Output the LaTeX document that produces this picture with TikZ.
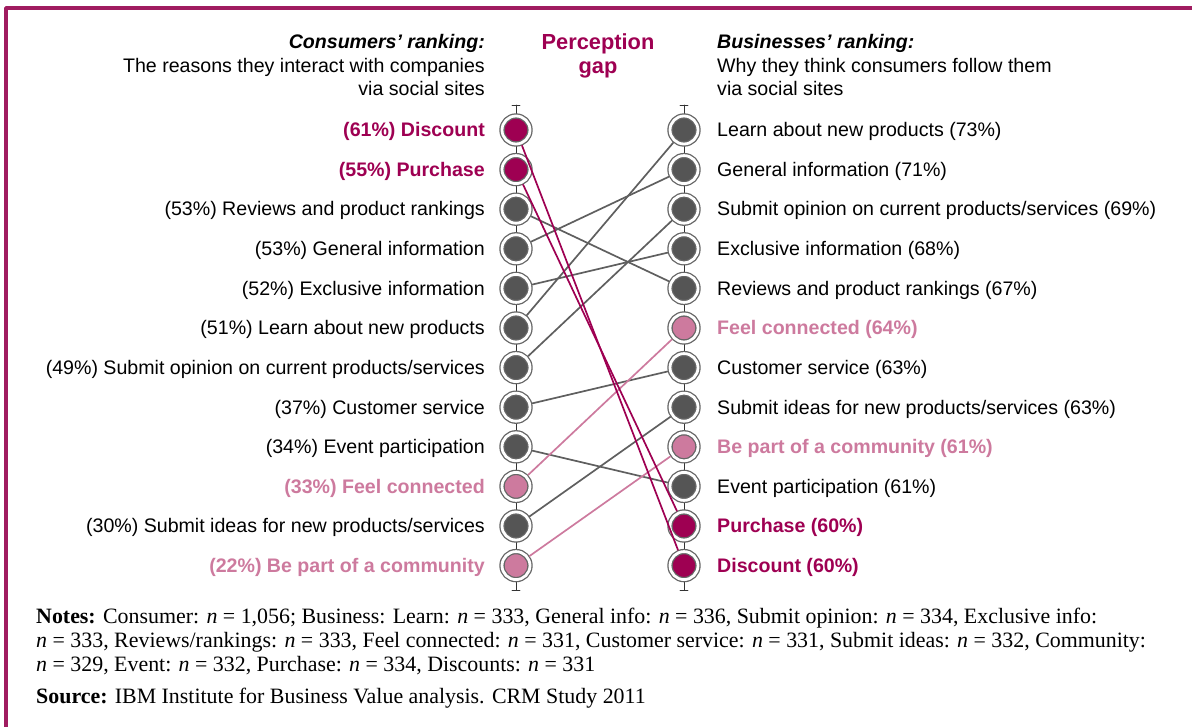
\documentclass[tikz,border=0pt]{standalone}
\usepackage{fontspec}
\setmainfont{Liberation Serif}
\setsansfont{Liberation Sans}
\definecolor{mag}{RGB}{158,0,82}
\definecolor{pnk}{RGB}{205,122,158}
\definecolor{dgray}{RGB}{85,85,85}
\definecolor{lgray}{RGB}{95,95,95}
\definecolor{framecol}{RGB}{160,28,96}
\begin{document}
\begin{tikzpicture}[x=1pt,y=-1pt,line join=round,line cap=round,
	font=\sffamily\fontsize{19.6}{23}\selectfont,
	dot/.style={circle,inner sep=0pt,outer sep=2.8pt,minimum size=28pt,fill=#1,draw=black!60,double=white,double distance=2.8pt,line width=1.3pt},
	lbl/.style={inner sep=0pt,text=#1},
	link/.style={#1,line width=1.7pt}]
	\useasboundingbox (0,0) rectangle (1192,727);
	%khung
	\draw[framecol,line width=3.5pt] (6,727)--(6,8)--(1192,8);
	%tieu de
	\node[lbl=black,anchor=base east,font=\sffamily\bfseries\itshape\fontsize{19.6}{23}\selectfont] (cH1) at (485,48.5) {Consumers’ ranking:};
	\node[lbl=black,anchor=base east] (cH2) at (485,72.5) {The reasons they interact with companies};
	\node[lbl=black,anchor=base east] (cH3) at (485,95.5) {via social sites};
	\node[lbl=mag,anchor=base,font=\sffamily\bfseries\fontsize{21.8}{25}\selectfont] (gH1) at (598,49.5) {Perception};
	\node[lbl=mag,anchor=base,font=\sffamily\bfseries\fontsize{21.8}{25}\selectfont] (gH2) at (598,73.5) {gap};
	\node[lbl=black,anchor=base west,font=\sffamily\bfseries\itshape\fontsize{19.6}{23}\selectfont] (bH1) at (717,48.5) {Businesses’ ranking:};
	\node[lbl=black,anchor=base west] (bH2) at (717,72.5) {Why they think consumers follow them};
	\node[lbl=black,anchor=base west] (bH3) at (717,95.5) {via social sites};
	%truc
	\foreach \x in {516,684}{
		\draw[black!80,line width=.9pt] (\x,105)--(\x,590) (\x-4,105)--(\x+4,105) (\x-4,590)--(\x+4,590);}
	%cac diem
	\foreach \i/\c in {0/mag,1/mag,2/dgray,3/dgray,4/dgray,5/dgray,6/dgray,7/dgray,8/dgray,9/pnk,10/dgray,11/pnk}{
		\node[dot=\c] (L\i) at (516,{130+39.6*\i}) {};}
	\foreach \i/\c in {0/dgray,1/dgray,2/dgray,3/dgray,4/dgray,5/pnk,6/dgray,7/dgray,8/pnk,9/dgray,10/mag,11/mag}{
		\node[dot=\c] (R\i) at (684,{130+39.6*\i}) {};}
	%nhan trai
	\foreach \i/\c/\f/\t in {0/mag/\bfseries/{(61\%) Discount},1/mag/\bfseries/{(55\%) Purchase},
		2/black/{}/{(53\%) Reviews and product rankings},3/black/{}/{(53\%) General information},
		4/black/{}/{(52\%) Exclusive information},5/black/{}/{(51\%) Learn about new products},
		6/black/{}/{(49\%) Submit opinion on current products/services},7/black/{}/{(37\%) Customer service},
		8/black/{}/{(34\%) Event participation},9/pnk/\bfseries/{(33\%) Feel connected},
		10/black/{}/{(30\%) Submit ideas for new products/services},11/pnk/\bfseries/{(22\%) Be part of a community}}{
		\node[lbl=\c,anchor=base east] (tL\i) at (485,{136.8+39.6*\i}) {\f\t};}
	%nhan phai
	\foreach \i/\c/\f/\t in {0/black/{}/{Learn about new products (73\%)},1/black/{}/{General information (71\%)},
		2/black/{}/{Submit opinion on current products/services (69\%)},3/black/{}/{Exclusive information (68\%)},
		4/black/{}/{Reviews and product rankings (67\%)},5/pnk/\bfseries/{Feel connected (64\%)},
		6/black/{}/{Customer service (63\%)},7/black/{}/{Submit ideas for new products/services (63\%)},
		8/pnk/\bfseries/{Be part of a community (61\%)},9/black/{}/{Event participation (61\%)},
		10/mag/\bfseries/{Purchase (60\%)},11/mag/\bfseries/{Discount (60\%)}}{
		\node[lbl=\c,anchor=base west] (tR\i) at (717,{136.8+39.6*\i}) {\f\t};}
	%duong noi
	\foreach \a/\b/\c in {2/4/lgray,3/1/lgray,4/3/lgray,5/0/lgray,6/2/lgray,7/6/lgray,8/9/lgray,10/7/lgray,
		9/5/pnk,11/8/pnk,0/11/mag,1/10/mag}{
		\draw[link=\c] (L\a)--(R\b);}
	%ghi chu
	\begin{scope}[font=\rmfamily\fontsize{21.9}{24}\selectfont]
		\node[lbl=black,anchor=base west] (n1) at (36,623) {\textbf{Notes:} Consumer: \textit{n} = 1,056; Business: Learn: \textit{n} = 333, General info: \textit{n} = 336, Submit opinion: \textit{n} = 334, Exclusive info:};
		\node[lbl=black,anchor=base west] (n2) at (36,647) {\textit{n} = 333, Reviews/rankings: \textit{n} = 333, Feel connected: \textit{n} = 331, Customer service: \textit{n} = 331, Submit ideas: \textit{n} = 332, Community:};
		\node[lbl=black,anchor=base west] (n3) at (36,671) {\textit{n} = 329, Event: \textit{n} = 332, Purchase: \textit{n} = 334, Discounts: \textit{n} = 331};
		\node[lbl=black,anchor=base west] (src) at (36,703) {\textbf{Source:} IBM Institute for Business Value analysis. CRM Study 2011};
	\end{scope}
\end{tikzpicture}
\end{document}
